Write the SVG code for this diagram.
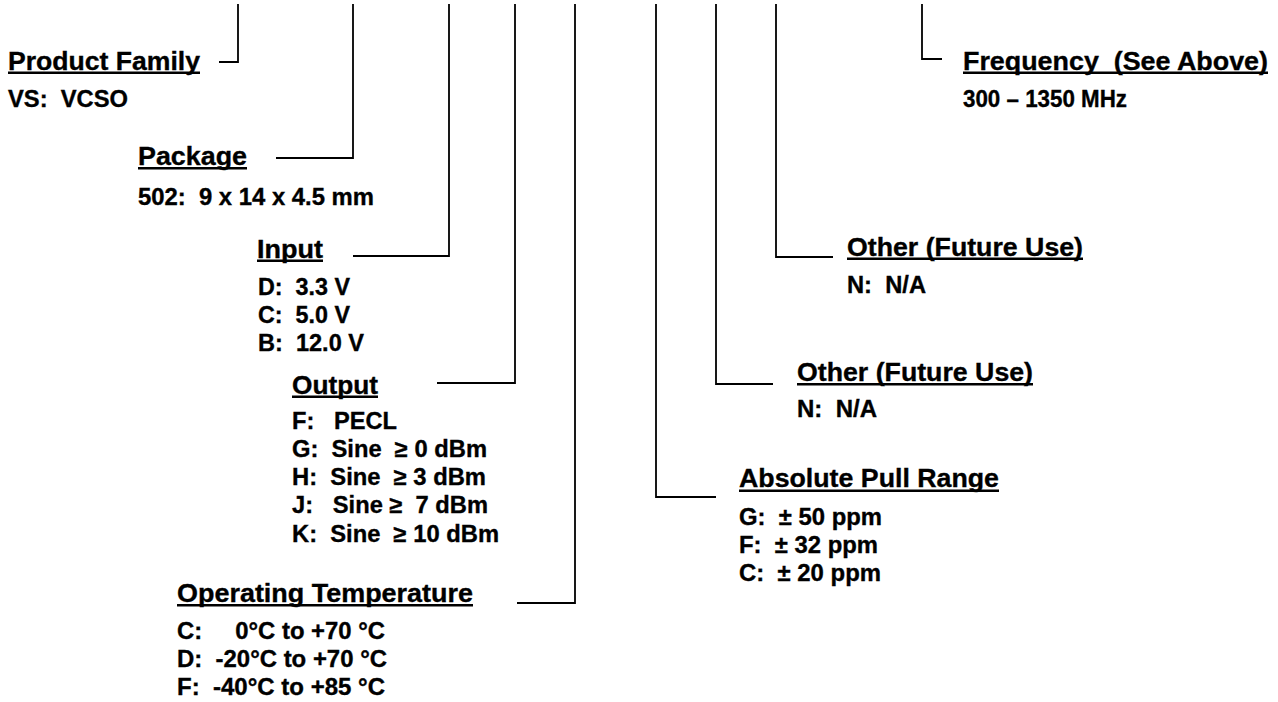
<svg xmlns="http://www.w3.org/2000/svg" width="1278" height="702" viewBox="0 0 1278 702">
<style>
text{font-family:"Liberation Sans",Arial,Helvetica,sans-serif;font-weight:bold;fill:#000;stroke:#000;stroke-width:0.35;white-space:pre}
.h{font-size:26px}
.b{font-size:23.5px}
.u{fill:#000}
.c{fill:none;stroke:#000;stroke-width:1.8;stroke-linejoin:miter}
</style>
<rect width="1278" height="702" fill="#fff"/>
<g id="connectors">
<path class="c" d="M238,4 V62 H219"/>
<path class="c" d="M353,4 V158 H276"/>
<path class="c" d="M449,4 V256 H353"/>
<path class="c" d="M515,4 V383 H437"/>
<path class="c" d="M575,4 V603 H517"/>
<path class="c" d="M656,4 V497 H716"/>
<path class="c" d="M716,4 V384 H773"/>
<path class="c" d="M776,4 V257 H833"/>
<path class="c" d="M922,4 V59 H942"/>
</g>
<g id="product-family">
<text class="h" x="8" y="69.5" textLength="192" lengthAdjust="spacingAndGlyphs">Product Family</text>
<rect class="u" x="8" y="71.5" width="192" height="2.5"/>
<text class="b" x="8" y="107" textLength="120" lengthAdjust="spacingAndGlyphs">VS:  VCSO</text>
</g>
<g id="package">
<text class="h" x="138" y="164.5" textLength="109" lengthAdjust="spacingAndGlyphs">Package</text>
<rect class="u" x="138" y="167" width="109" height="2.5"/>
<text class="b" x="138" y="204.5" textLength="236" lengthAdjust="spacingAndGlyphs">502:  9 x 14 x 4.5 mm</text>
</g>
<g id="input">
<text class="h" x="257" y="257.5" textLength="66" lengthAdjust="spacingAndGlyphs">Input</text>
<rect class="u" x="257" y="259.5" width="66" height="2.5"/>
<text class="b" x="258" y="294.5" textLength="92" lengthAdjust="spacingAndGlyphs">D:  3.3 V</text>
<text class="b" x="258" y="322.5" textLength="92" lengthAdjust="spacingAndGlyphs">C:  5.0 V</text>
<text class="b" x="258" y="350.5" textLength="106" lengthAdjust="spacingAndGlyphs">B:  12.0 V</text>
</g>
<g id="output">
<text class="h" x="292" y="393.5" textLength="86" lengthAdjust="spacingAndGlyphs">Output</text>
<rect class="u" x="292" y="395.5" width="86" height="2.5"/>
<text class="b" x="292" y="429" textLength="105" lengthAdjust="spacingAndGlyphs">F:   PECL</text>
<text class="b" x="292" y="457" textLength="195" lengthAdjust="spacingAndGlyphs">G:  Sine  ≥ 0 dBm</text>
<text class="b" x="292" y="485" textLength="194" lengthAdjust="spacingAndGlyphs">H:  Sine  ≥ 3 dBm</text>
<text class="b" x="292" y="513.3" textLength="196" lengthAdjust="spacingAndGlyphs">J:   Sine ≥  7 dBm</text>
<text class="b" x="292" y="541.5" textLength="207" lengthAdjust="spacingAndGlyphs">K:  Sine  ≥ 10 dBm</text>
</g>
<g id="operating-temperature">
<text class="h" x="177" y="602" textLength="296" lengthAdjust="spacingAndGlyphs">Operating Temperature</text>
<rect class="u" x="177" y="604" width="296" height="2.5"/>
<text class="b" x="177" y="638.5" textLength="208" lengthAdjust="spacingAndGlyphs">C:     0°C to +70 °C</text>
<text class="b" x="177" y="666.5" textLength="210" lengthAdjust="spacingAndGlyphs">D:  -20°C to +70 °C</text>
<text class="b" x="177" y="694.5" textLength="208" lengthAdjust="spacingAndGlyphs">F:  -40°C to +85 °C</text>
</g>
<g id="absolute-pull-range">
<text class="h" x="739" y="487" textLength="260" lengthAdjust="spacingAndGlyphs">Absolute Pull Range</text>
<rect class="u" x="739" y="489.5" width="260" height="2.5"/>
<text class="b" x="739" y="524.5" textLength="143" lengthAdjust="spacingAndGlyphs">G:  ± 50 ppm</text>
<text class="b" x="739" y="552.5" textLength="139" lengthAdjust="spacingAndGlyphs">F:  ± 32 ppm</text>
<text class="b" x="739" y="580.7" textLength="142" lengthAdjust="spacingAndGlyphs">C:  ± 20 ppm</text>
</g>
<g id="other-lower">
<text class="h" x="797" y="381" textLength="236" lengthAdjust="spacingAndGlyphs">Other (Future Use)</text>
<rect class="u" x="797" y="383" width="236" height="2.5"/>
<text class="b" x="797" y="417" textLength="80" lengthAdjust="spacingAndGlyphs">N:  N/A</text>
</g>
<g id="other-upper">
<text class="h" x="847" y="255.5" textLength="236" lengthAdjust="spacingAndGlyphs">Other (Future Use)</text>
<rect class="u" x="847" y="257.5" width="236" height="2.5"/>
<text class="b" x="847" y="292.5" textLength="79" lengthAdjust="spacingAndGlyphs">N:  N/A</text>
</g>
<g id="frequency">
<text class="h" x="963" y="69.5" textLength="305" lengthAdjust="spacingAndGlyphs">Frequency  (See Above)</text>
<rect class="u" x="963" y="71.5" width="305" height="2.5"/>
<text class="b" x="963" y="107" textLength="164" lengthAdjust="spacingAndGlyphs">300 – 1350 MHz</text>
</g>
</svg>
